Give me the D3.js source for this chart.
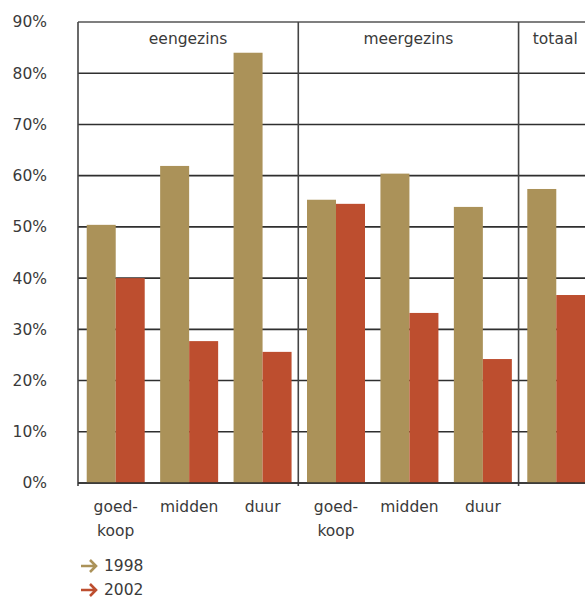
<!DOCTYPE html>
<html>
<head>
<meta charset="utf-8">
<script src="https://cdn.jsdelivr.net/npm/d3@7"></script>
<style>
  body { margin: 0; background: #fff; }
  text { font-family: "DejaVu Sans", sans-serif; fill: #3a3a3a; }
</style>
</head>
<body>
<div id="container"></div>
<script>
// data
var groups = ['eengezins', 'meergezins', 'totaal']
var categories = ['e-goedkoop', 'e-midden', 'e-duur', 'm-goedkoop', 'm-midden', 'm-duur', 'totaal']
var catLabels = [['goed-', 'koop'], ['midden'], ['duur'], ['goed-', 'koop'], ['midden'], ['duur'], []]
var groupOf = [0, 0, 0, 1, 1, 1, 2]
var series = ['1998', '2002']
var values1998 = [50.4, 61.9, 84.0, 55.3, 60.4, 53.9, 57.4]
var values2002 = [40.0, 27.7, 25.6, 54.5, 33.2, 24.2, 36.7]
var yTicks = [0, 10, 20, 30, 40, 50, 60, 70, 80, 90]

var colors = ['#ab9259', '#bd4e2f']

var width = 585, height = 598
var margin = { left: 78, top: 22, bottom: 483, right: 592 }
var fontSize = '15.5px'

var svg = d3.select('#container').append('svg')
    .attr('width', width)
    .attr('height', height)

var x = d3.scaleBand().domain(categories).range([margin.left, margin.right]).paddingInner(0).paddingOuter(0)
var xs = d3.scaleBand().domain(series).range([0, x.bandwidth()]).paddingInner(0).paddingOuter(0.266)
var y = d3.scaleLinear().domain([0, 90]).range([margin.bottom, margin.top])

// grid lines
svg.append('g').selectAll('line')
    .data(yTicks)
    .enter().append('line')
    .attr('x1', margin.left).attr('x2', width)
    .attr('y1', function(d) { return y(d) }).attr('y2', function(d) { return y(d) })
    .style('stroke', function(d) { return d === 90 ? '#555' : '#2f2f2f' })
    .style('stroke-width', 1.6)

// y tick labels
svg.append('g').selectAll('text')
    .data(yTicks)
    .enter().append('text')
    .attr('x', 47)
    .attr('y', function(d) { return y(d) })
    .attr('dy', '.35em')
    .attr('text-anchor', 'end')
    .style('font-size', fontSize)
    .text(function(d) { return d + '%' })

// group dividers
var groupStarts = groups.map(function(g, i) { return categories[groupOf.indexOf(i)] })
svg.append('g').selectAll('line')
    .data(groupStarts)
    .enter().append('line')
    .attr('x1', function(d) { return x(d) }).attr('x2', function(d) { return x(d) })
    .attr('y1', margin.top).attr('y2', margin.bottom + 3)
    .style('stroke', '#444')
    .style('stroke-width', 1.6)

// group labels
svg.append('g').selectAll('text')
    .data(groups)
    .enter().append('text')
    .attr('x', function(g, i) {
        var cs = categories.filter(function(c, j) { return groupOf[j] === i })
        return (x(cs[0]) + x(cs[cs.length - 1]) + x.bandwidth()) / 2
    })
    .attr('y', 44)
    .attr('text-anchor', 'middle')
    .style('font-size', fontSize)
    .text(function(d) { return d })

// bars
var barData = []
categories.forEach(function(c, i) {
    barData.push({ cat: c, s: '1998', v: values1998[i], color: colors[0] })
    barData.push({ cat: c, s: '2002', v: values2002[i], color: colors[1] })
})
svg.append('g').selectAll('rect')
    .data(barData)
    .enter().append('rect')
    .attr('x', function(d) { return x(d.cat) + xs(d.s) + 1 })
    .attr('width', xs.bandwidth())
    .attr('y', function(d) { return y(d.v) })
    .attr('height', function(d) { return y(0) - y(d.v) })
    .style('fill', function(d) { return d.color })

// baseline
svg.append('line')
    .attr('x1', margin.left).attr('x2', width)
    .attr('y1', margin.bottom).attr('y2', margin.bottom)
    .style('stroke', '#2f2f2f').style('stroke-width', 1.6)

// category labels
var catG = svg.append('g').selectAll('text')
    .data(categories)
    .enter().append('text')
    .attr('x', function(d) { return x(d) + x.bandwidth() / 2 + 1 })
    .attr('y', 512)
    .attr('text-anchor', 'middle')
    .style('font-size', fontSize)
catG.selectAll('tspan')
    .data(function(d, i) { return catLabels[i] })
    .enter().append('tspan')
    .attr('x', function() { return d3.select(this.parentNode).attr('x') })
    .attr('dy', function(d, i) { return i === 0 ? 0 : 24 })
    .text(function(d) { return d })

// legend
var legend = svg.append('g').selectAll('g')
    .data(series)
    .enter().append('g')
    .attr('transform', function(d, i) { return 'translate(81,' + (566 + i * 24) + ')' })
legend.append('path')
    .attr('d', 'M0,0 L15,0 M9,-6 L15,0 L9,6')
    .style('fill', 'none')
    .style('stroke', function(d, i) { return colors[i] })
    .style('stroke-width', 2.6)
legend.append('text')
    .attr('x', 23)
    .attr('dy', '.35em')
    .style('font-size', fontSize)
    .text(function(d) { return d })
</script>
</body>
</html>
